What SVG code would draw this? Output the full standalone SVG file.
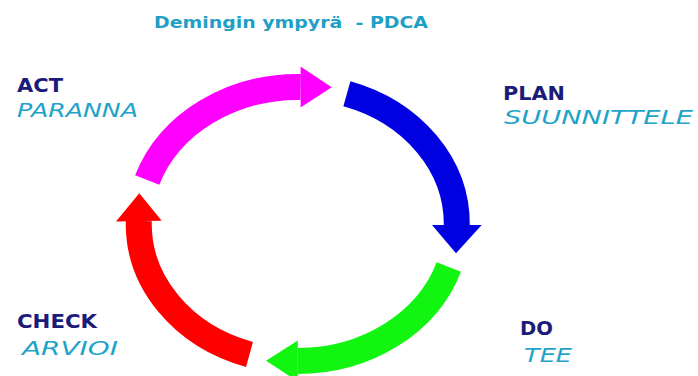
<svg xmlns="http://www.w3.org/2000/svg" width="698" height="376" viewBox="0 0 698 376">
<style>
.t{font-family:"DejaVu Sans","Liberation Sans",sans-serif;}
.title{font-size:16px;font-weight:bold;fill:#1f9fc6;white-space:pre;}
.en{font-size:19px;font-weight:bold;fill:#1b1b7a;}
.fi{font-size:19px;font-style:italic;fill:#1fa3c9;}
.band{fill:none;stroke-width:26;stroke-linecap:butt;}
</style>
<rect width="698" height="376" fill="#ffffff"/>
<g id="title"><text class="t title" x="154" y="28" textLength="274" lengthAdjust="spacingAndGlyphs" xml:space="preserve">Demingin ympyrä  - PDCA</text></g>
<g id="connectors">
<g id="arrow-act">
<path class="band" stroke="#ff00ff" d="M147.2 180.1 A159 137 0 0 1 300.6 87"/>
<polygon fill="#ff00ff" points="300.6,66.5 331.7,87.3 300.6,107.5"/>
</g>
<g id="arrow-plan">
<path class="band" stroke="#0000e0" d="M346.9 93.7 A159 137 0 0 1 456.8 225"/>
<polygon fill="#0000e0" points="432,225 481.7,225 456,253.3"/>
</g>
<g id="arrow-do">
<path class="band" stroke="#11f511" d="M448.8 267 A159 137 0 0 1 297.8 361"/>
<polygon fill="#11f511" points="297.8,340.5 266,360.7 297.8,381.5"/>
</g>
<g id="arrow-check">
<path class="band" stroke="#ff0000" d="M249.5 354.5 A159 137 0 0 1 138.8 220.9"/>
<polygon fill="#ff0000" points="116,221.5 139.3,193.3 161.7,220.7"/>
</g>
</g>
<g id="node-act">
<text class="t en" x="17" y="92" textLength="46" lengthAdjust="spacingAndGlyphs">ACT</text>
<text class="t fi" x="17" y="117" textLength="121" lengthAdjust="spacingAndGlyphs">PARANNA</text>
</g>
<g id="node-plan">
<text class="t en" x="503" y="100" textLength="62" lengthAdjust="spacingAndGlyphs">PLAN</text>
<text class="t fi" x="504" y="124" textLength="189" lengthAdjust="spacingAndGlyphs">SUUNNITTELE</text>
</g>
<g id="node-check">
<text class="t en" x="17" y="328" textLength="80" lengthAdjust="spacingAndGlyphs">CHECK</text>
<text class="t fi" x="22" y="355" textLength="96" lengthAdjust="spacingAndGlyphs">ARVIOI</text>
</g>
<g id="node-do">
<text class="t en" x="520" y="335" textLength="33" lengthAdjust="spacingAndGlyphs">DO</text>
<text class="t fi" x="524" y="362" textLength="48" lengthAdjust="spacingAndGlyphs">TEE</text>
</g>
</svg>
